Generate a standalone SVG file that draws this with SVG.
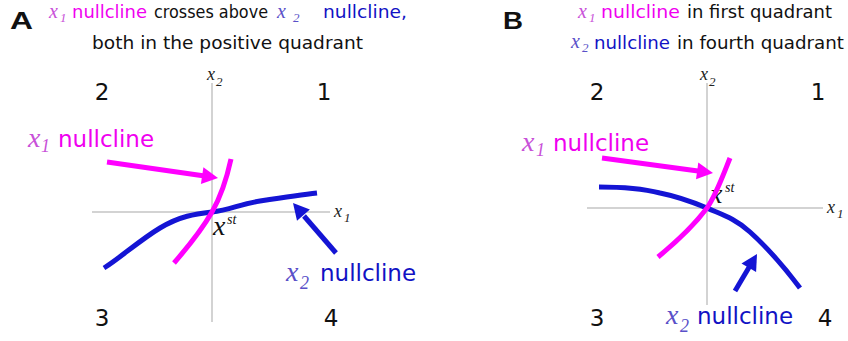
<svg xmlns="http://www.w3.org/2000/svg" width="848" height="341" viewBox="0 0 848 341">
<style>
.sans{font-family:"DejaVu Sans","Liberation Sans",sans-serif}
.ser{font-family:"Liberation Serif","DejaVu Serif",serif;font-style:italic}
.bold{font-family:"Liberation Sans","DejaVu Sans",sans-serif;font-weight:bold;font-size:23px}
.title{font-size:17.5px}
.lab{font-size:23px}
.mag{fill:#f000f0}
.magx{fill:#c850d8}
.blu{fill:#1212c4}
.blux{fill:#5a50c8}
.blk{fill:#111}
.axis{stroke:#c4c4c4;stroke-width:1.5;fill:none}
.mline{stroke:#ff00ff;stroke-width:5;fill:none;stroke-linecap:butt}
.bline{stroke:#1414d4;stroke-width:5;fill:none;stroke-linecap:butt}
.mhead{fill:#ff00ff}
.bhead{fill:#1414d4}
.ax{font-size:18px;fill:#222}
.axs{font-size:13px;fill:#222}
.tx{font-size:20px}
.ts{font-size:13px}
.lx{font-size:28px}
.ls{font-size:18px}
</style>
<rect width="848" height="341" fill="#fff"/>

<!-- Panel A -->
<g id="titleA">
<text class="bold blk" x="10" y="29" textLength="23" lengthAdjust="spacingAndGlyphs">A</text>
<text class="ser magx tx" x="49" y="18">x</text>
<text class="ser magx ts" x="60" y="22">1</text>
<text class="sans title mag" x="72" y="18" textLength="75" lengthAdjust="spacingAndGlyphs">nullcline</text>
<text class="sans title blk" x="154" y="18" textLength="114" lengthAdjust="spacingAndGlyphs">crosses above</text>
<text class="ser blux tx" x="277" y="18">x</text>
<text class="ser blux ts" x="293" y="22">2</text>
<text class="sans title blu" x="323" y="18" textLength="84" lengthAdjust="spacingAndGlyphs">nullcline,</text>
<text class="sans title blk" x="92" y="49" textLength="271" lengthAdjust="spacingAndGlyphs">both in the positive quadrant</text>
</g>
<g id="axesA">
<line class="axis" x1="212" y1="83" x2="212" y2="322"/>
<line class="axis" x1="92" y1="212" x2="330" y2="212"/>
<text class="ser ax" x="207" y="80">x</text>
<text class="ser axs" x="216" y="86">2</text>
<text class="ser ax" x="334" y="217">x</text>
<text class="ser axs" x="344" y="222">1</text>
<text class="sans lab blk" x="102" y="100" text-anchor="middle">2</text>
<text class="sans lab blk" x="324" y="100" text-anchor="middle">1</text>
<text class="sans lab blk" x="102" y="326" text-anchor="middle">3</text>
<text class="sans lab blk" x="331" y="326" text-anchor="middle">4</text>
<text class="ser" x="213" y="235" font-size="28" fill="#111">x</text>
<text class="ser" x="227" y="224" font-size="14" fill="#111">st</text>
</g>
<g id="nullclineA-x2">
<path class="bline" d="M104,268 C120,258 140,240 160,228 C180,216 195,214 212,212 C230,210 240,204 260,201 C280,198 300,195 317,193"/>
</g>
<g id="nullclineA-x1">
<path class="mline" d="M174,263 Q200,233 212,212 T231,159"/>
</g>
<g id="labelA-x1">
<text class="ser magx lx" x="28" y="147">x</text>
<text class="ser magx ls" x="41" y="152">1</text>
<text class="sans lab mag" x="58" y="147">nullcline</text>
</g>
<g id="labelA-x2">
<text class="ser blux lx" x="286" y="281">x</text>
<text class="ser blux ls" x="300" y="289">2</text>
<text class="sans lab blu" x="320" y="281">nullcline</text>
</g>

<!-- Panel B -->
<g id="titleB">
<text class="bold blk" x="503" y="29" textLength="20" lengthAdjust="spacingAndGlyphs">B</text>
<text class="ser magx tx" x="578" y="18">x</text>
<text class="ser magx ts" x="589" y="22">1</text>
<text class="sans title mag" x="601" y="18" textLength="79" lengthAdjust="spacingAndGlyphs">nullcline</text>
<text class="sans title blk" x="687" y="18" textLength="145" lengthAdjust="spacingAndGlyphs">in first quadrant</text>
<text class="ser blux tx" x="571" y="48">x</text>
<text class="ser blux ts" x="582" y="52">2</text>
<text class="sans title blu" x="594" y="49" textLength="76" lengthAdjust="spacingAndGlyphs">nullcline</text>
<text class="sans title blk" x="677" y="49" textLength="167" lengthAdjust="spacingAndGlyphs">in fourth quadrant</text>
</g>
<g id="axesB">
<line class="axis" x1="707" y1="83" x2="707" y2="305"/>
<line class="axis" x1="587" y1="208" x2="823" y2="208"/>
<text class="ser ax" x="700" y="80">x</text>
<text class="ser axs" x="709" y="86">2</text>
<text class="ser ax" x="827" y="213">x</text>
<text class="ser axs" x="837" y="218">1</text>
<text class="sans lab blk" x="597" y="100" text-anchor="middle">2</text>
<text class="sans lab blk" x="818" y="100" text-anchor="middle">1</text>
<text class="sans lab blk" x="597" y="326" text-anchor="middle">3</text>
<text class="sans lab blk" x="825" y="326" text-anchor="middle">4</text>
<text class="ser" x="710" y="203" font-size="28" fill="#111">x</text>
<text class="ser" x="725" y="192" font-size="14" fill="#111">st</text>
</g>
<g id="nullclineB-x2">
<path class="bline" d="M599,187 C620,187 640,188 660,193 C680,197 695,203 707,208 C720,214 735,218 750,232 C770,250 785,268 800,288"/>
</g>
<g id="nullclineB-x1">
<path class="mline" d="M658,257 C675,243 692,228 707,208 C716,195 722,178 730,158"/>
</g>
<g id="labelB-x1">
<text class="ser magx lx" x="522" y="151">x</text>
<text class="ser magx ls" x="536" y="156">1</text>
<text class="sans lab mag" x="553" y="151">nullcline</text>
</g>
<g id="labelB-x2">
<text class="ser blux lx" x="666" y="324">x</text>
<text class="ser blux ls" x="680" y="332">2</text>
<text class="sans lab blu" x="697" y="324">nullcline</text>
</g>

<!-- Connectors -->
<g id="connectors">
<line class="mline" x1="107" y1="162" x2="203" y2="175.8"/>
<polygon class="mhead" points="218,178 200.9,184.1 203.4,167.3"/>
<line class="bline" x1="336" y1="253" x2="304" y2="216"/>
<polygon class="bhead" points="293,203 309.9,209.6 297,220.7"/>
<line class="mline" x1="602" y1="158" x2="698" y2="171"/>
<polygon class="mhead" points="713,173 696,179.3 698.3,162.4"/>
<line class="bline" x1="735" y1="291" x2="749.5" y2="266.5"/>
<polygon class="bhead" points="757,254 756.1,272.1 741.5,263.4"/>
</g>
</svg>
